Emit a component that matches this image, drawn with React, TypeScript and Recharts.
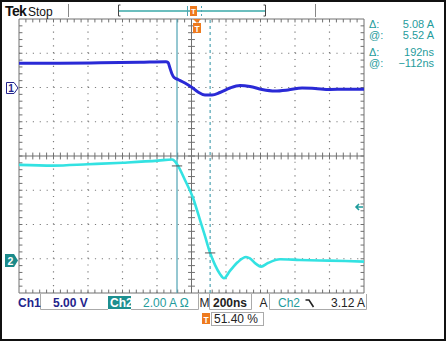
import { LineChart, Line, XAxis, YAxis, ReferenceLine, ReferenceDot } from 'recharts';

// Ch1: time (ns, 0 = trigger) and voltage (V)
const ch1Time = [-1028, -790, -558, -327, -176, -164, -153, -141, -129, -106, -66, -25, 10, 50, 91, 137, 195, 253, 311, 381, 456, 531, 613, 688, 775, 862, 972];
const ch1Volts = [3.53, 3.55, 3.61, 3.68, 3.75, 3.65, 2.85, 1.97, 1.46, 1.17, 0.66, 0, -0.66, -1.09, -1.09, -0.73, -0.07, 0.29, 0.15, -0.29, -0.51, -0.36, -0.07, -0.15, -0.29, -0.25, -0.26];

// Ch2: time (ns) and current (A)
const ch2Time = [-1028, -831, -628, -425, -222, -141, -129, -106, -66, -19, 21, 50, 79, 108, 137, 160, 195, 241, 288, 311, 346, 375, 415, 485, 601, 717, 862, 972];
const ch2Amps = [5.58, 5.54, 5.62, 5.71, 5.83, 5.9, 5.84, 5.52, 4.7, 3.65, 2.37, 1.43, 0.47, -0.26, -0.79, -1.04, -0.61, -0.09, 0.2, 0.12, -0.2, -0.36, -0.15, 0.07, 0.03, 0, -0.03, -0.07];

// cursors
const cursorTimes = [-112, 80];
const cursorAmps = [5.52, 0.44];
const triggerAmps = 3.12;

// graticule divisions
const gridX = [1, 2, 3, 4, 6, 7, 8, 9];
const gridY = [-3, -2, -1, 1, 2, 3];
const minorX = Array.from({ length: 49 }, (_, i) => (i + 1) * 0.2);
const minorY = Array.from({ length: 39 }, (_, i) => -4 + (i + 1) * 0.2);

const ch1Data = ch1Time.map((t, i) => ({ t, v: ch1Volts[i] }));
const ch2Data = ch2Time.map((t, i) => ({ t, a: ch2Amps[i] }));

const T0 = -1028; // left edge, ns
const NS_DIV = 200;
const A_MID = 6.1; // Ch2 value at screen centre
const A_DIV = 2;

// division -> axis units (time axis / Ch2 axis)
const gx = (d: number) => T0 + d * NS_DIV;
const gy = (d: number) => A_MID + d * A_DIV;

const W = 446;
const H = 342;
const TEAL = '#1f9c9c';
const NAVY = '#24248c';
const GRID = '#7c7c7c';
const EDGE = '#707070';
const CURSOR = '#4fa3b3';
const ORANGE = '#ee7a1e';

const tk = 0.1;

export default function App() {
  const seg = (x1: number, y1: number, x2: number, y2: number, key: string) => (
    <ReferenceLine
      key={key}
      xAxisId="t"
      yAxisId="ch2"
      segment={[{ x: gx(x1), y: gy(y1) }, { x: gx(x2), y: gy(y2) }]}
      stroke={EDGE}
      strokeWidth={1}
      ifOverflow="visible"
    />
  );

  return (
    <div
      style={{
        position: 'absolute',
        left: 0,
        top: 0,
        width: W,
        height: H,
        background: '#fff',
        overflow: 'hidden',
        fontFamily: '"Liberation Sans", Arial, sans-serif',
      }}
    >
      <LineChart
        width={W}
        height={H}
        margin={{ top: 19, right: 82, bottom: 49, left: 19 }}
        style={{ position: 'absolute', left: 0, top: 0 }}
      >
        <XAxis xAxisId="t" type="number" dataKey="t" domain={[gx(0), gx(10)]} allowDataOverflow hide />
        <YAxis yAxisId="ch1" type="number" domain={[-30, 10]} allowDataOverflow hide />
        <YAxis yAxisId="ch2" type="number" domain={[gy(-4), gy(4)]} allowDataOverflow hide />

        {gridX.map((x) => (
          <ReferenceLine
            key={'gx' + x}
            xAxisId="t"
            yAxisId="ch2"
            segment={[{ x: gx(x), y: gy(-4) }, { x: gx(x), y: gy(4) }]}
            stroke={GRID}
            strokeWidth={1.2}
            strokeDasharray="1.2 5.65"
            ifOverflow="visible"
          />
        ))}
        {gridY.map((y) => (
          <ReferenceLine
            key={'gy' + y}
            xAxisId="t"
            yAxisId="ch2"
            segment={[{ x: gx(0), y: gy(y) }, { x: gx(10), y: gy(y) }]}
            stroke={GRID}
            strokeWidth={1.2}
            strokeDasharray="1.2 5.7"
            ifOverflow="visible"
          />
        ))}
        {seg(5, -4, 5, 4, 'cv')}
        {seg(0, 0, 10, 0, 'ch')}
        {seg(0, -4, 0, 4, 'bl')}
        {seg(10, -4, 10, 4, 'br')}
        {seg(0, 4, 10, 4, 'bt')}
        {seg(0, -4, 10, -4, 'bb')}
        {minorX.map((x) => seg(x, 4, x, 4 - tk, 'tt' + x))}
        {minorX.map((x) => seg(x, -4, x, -4 + tk, 'bt' + x))}
        {minorX.map((x) => seg(x, -tk, x, tk, 'ct' + x))}
        {minorY.map((y) => seg(0, y, tk, y, 'lt' + y))}
        {minorY.map((y) => seg(10, y, 10 - tk, y, 'rt' + y))}
        {minorY.map((y) => seg(5 - tk, y, 5 + tk, y, 'vt' + y))}

        <ReferenceLine xAxisId="t" yAxisId="ch2" x={cursorTimes[0]} stroke={CURSOR} strokeWidth={1.2} />
        <ReferenceLine xAxisId="t" yAxisId="ch2" x={cursorTimes[1]} stroke={CURSOR} strokeWidth={1.2} strokeDasharray="3 3" />

        <Line
          xAxisId="t"
          yAxisId="ch1"
          data={ch1Data}
          dataKey="v"
          type="monotone"
          stroke="#2a2ad6"
          strokeWidth={3}
          dot={false}
          isAnimationActive={false}
        />
        <Line
          xAxisId="t"
          yAxisId="ch2"
          data={ch2Data}
          dataKey="a"
          type="monotone"
          stroke="#33e2e2"
          strokeWidth={2.6}
          dot={false}
          isAnimationActive={false}
        />

        {cursorTimes.map((t, i) => (
          <ReferenceLine
            key={'cm' + i}
            xAxisId="t"
            yAxisId="ch2"
            segment={[{ x: t - 30, y: cursorAmps[i] }, { x: t + 30, y: cursorAmps[i] }]}
            stroke="#555"
            strokeWidth={1}
          />
        ))}
        <ReferenceDot
          xAxisId="t"
          yAxisId="ch2"
          x={949}
          y={triggerAmps}
          r={3}
          shape={(p: any) => (
            <path
              d={`M${p.cx - 4} ${p.cy} H${p.cx + 3} M${p.cx - 1} ${p.cy - 3} L${p.cx - 4} ${p.cy} L${p.cx - 1} ${p.cy + 3}`}
              stroke={TEAL}
              strokeWidth={1.6}
              fill="none"
            />
          )}
        />
      </LineChart>

      <svg width={W} height={H} style={{ position: 'absolute', left: 0, top: 0, pointerEvents: 'none' }}>
        {/* header */}
        <text x={5} y={16} fontSize={14} fontWeight="bold" fill="#111" letterSpacing={-0.6}>Tek</text>
        <text x={28} y={16} fontSize={12} fill="#111">Stop</text>
        <line x1={68.5} y1={4} x2={68.5} y2={17} stroke="#888" />
        <line x1={315.5} y1={4} x2={315.5} y2={17} stroke="#888" />
        <path d="M120.5 5 H118.5 V16 H120.5 M263.5 5 H265.5 V16 H263.5" stroke="#444" fill="none" />
        <line x1={119} y1={11} x2={265} y2={11} stroke="#3aa9a9" strokeWidth={1.4} />
        <line x1={187.5} y1={6} x2={187.5} y2={16} stroke={CURSOR} />
        <line x1={201.5} y1={6} x2={201.5} y2={16} stroke={CURSOR} strokeDasharray="2 2" />
        <rect x={190} y={6} width={7} height={10} fill={ORANGE} />
        <text x={193.5} y={14} fontSize={8} fontWeight="bold" fill="#fff" textAnchor="middle">T</text>
        <path d="M193 19 H201 L197 23 Z" fill={ORANGE} />
        <rect x={193} y={23} width={8} height={10} fill={ORANGE} />
        <text x={197} y={31.5} fontSize={8.5} fontWeight="bold" fill="#fff" textAnchor="middle">T</text>

        {/* readouts */}
        <g fill={TEAL} fontSize={11}>
          <text x={369} y={28}>Δ:</text>
          <text x={434} y={28} textAnchor="end">5.08 A</text>
          <text x={369} y={39}>@:</text>
          <text x={434} y={39} textAnchor="end">5.52 A</text>
          <text x={369} y={56}>Δ:</text>
          <text x={434} y={56} textAnchor="end">192ns</text>
          <text x={369} y={67}>@:</text>
          <text x={434} y={67} textAnchor="end">−112ns</text>
        </g>

        {/* channel markers */}
        <path d="M6.5 82.5 H14 L18 88 L14 93.5 H6.5 Z" fill="#fff" stroke={NAVY} />
        <text x={11} y={92} fontSize={10} fontWeight="bold" fill={NAVY} textAnchor="middle">1</text>
        <path d="M5 254 H14 L18 260.5 L14 267 H5 Z" fill="#1a8a8a" />
        <text x={10.5} y={265} fontSize={10.5} fontWeight="bold" fill="#fff" textAnchor="middle">2</text>

        {/* status line */}
        <g stroke="#aaa" fill="none">
          <path d="M40.5 294 V309.5 H108" />
          <path d="M131 309.5 H198.5 V294" />
          <path d="M209.5 294 V309.5 H251.5 V294" />
          <path d="M269.5 294 V309.5 H366.5 V294" />
          <rect x={211.5} y={312.5} width={52} height={13} />
        </g>
        <text x={18} y={307} fontSize={12} fontWeight="bold" fill={NAVY}>Ch1</text>
        <text x={53} y={307} fontSize={12} fontWeight="bold" fill={NAVY}>5.00 V</text>
        <rect x={108} y={296} width={23} height={13} fill="#1d8f8f" />
        <text x={110} y={307} fontSize={12} fontWeight="bold" fill="#fff">Ch2</text>
        <text x={143} y={307} fontSize={12} fill={TEAL}>2.00 A Ω</text>
        <text x={199.5} y={307} fontSize={12} fill="#222">M</text>
        <text x={213} y={307} fontSize={12} fontWeight="bold" fill="#222">200ns</text>
        <text x={259.5} y={307} fontSize={12} fill="#222">A</text>
        <text x={278} y={307} fontSize={12} fill={TEAL}>Ch2</text>
        <path d="M305.5 300 H309 L313.5 307" stroke="#222" strokeWidth={1.6} fill="none" />
        <text x={365} y={307} fontSize={12} fill="#222" textAnchor="end">3.12 A</text>
        <rect x={202} y={313} width={8} height={11} fill={ORANGE} />
        <text x={206} y={322.5} fontSize={8.5} fontWeight="bold" fill="#fff" textAnchor="middle">T</text>
        <text x={214} y={323} fontSize={12} fill="#222">51.40 %</text>
      </svg>
      <div
        style={{
          position: 'absolute',
          left: 0,
          top: 0,
          width: W,
          height: 341,
          border: '2px solid #111',
          boxSizing: 'border-box',
          pointerEvents: 'none',
        }}
      />
    </div>
  );
}
